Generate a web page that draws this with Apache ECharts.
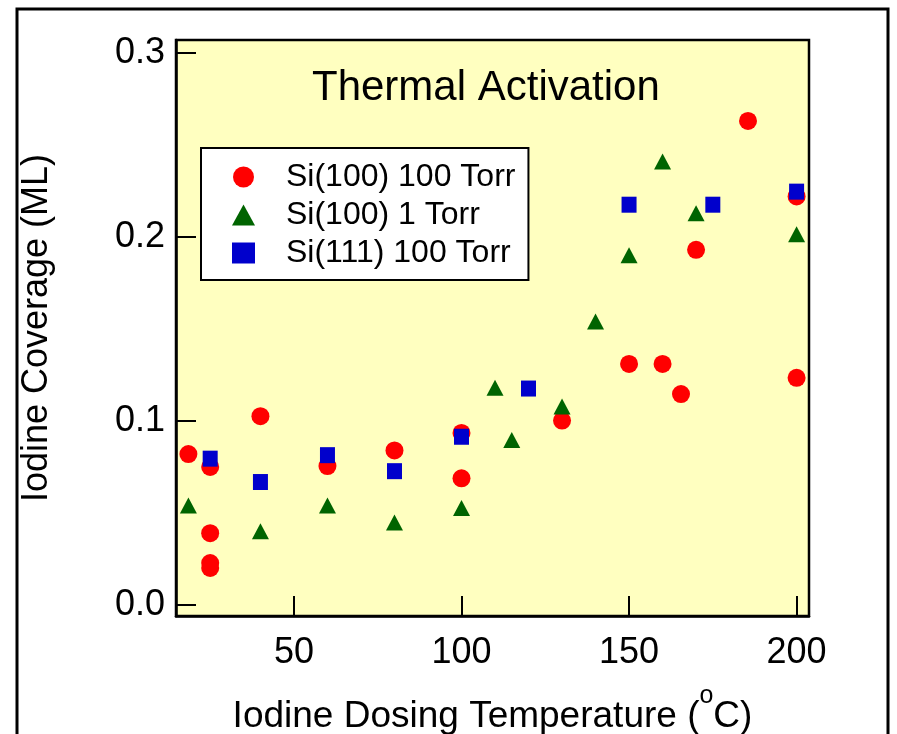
<!DOCTYPE html>
<html>
<head>
<meta charset="utf-8">
<title>Thermal Activation</title>
<script src="https://cdn.jsdelivr.net/npm/echarts@6/dist/echarts.min.js"></script>
<style>
  html, body { margin: 0; padding: 0; background: #fff; }
  #main { width: 897px; height: 734px; }
</style>
</head>
<body>
<div id="main"></div>
<script>
// 数据
var xTicks = [50, 100, 150, 200];
var yTicks = [0, 0.1, 0.2, 0.3];

// Si(100) 100 Torr
var si100_100x = [18.5, 25, 25, 25, 25, 40, 60, 80, 100, 100, 130, 150, 160, 165.5, 170, 185.5, 200, 200];
var si100_100y = [0.082, 0.075, 0.039, 0.0228, 0.0201, 0.1026, 0.0755, 0.084, 0.0935, 0.0688, 0.1002, 0.131, 0.131, 0.1146, 0.193, 0.263, 0.222, 0.1234];

// Si(100) 1 Torr
var si100_1x = [18.5, 40, 60, 80, 100, 110, 115, 130, 140, 150, 160, 170, 200];
var si100_1y = [0.054, 0.040, 0.054, 0.0448, 0.0527, 0.118, 0.0897, 0.1078, 0.154, 0.190, 0.241, 0.2128, 0.2014];

// Si(111) 100 Torr
var si111_100x = [25, 40, 60, 80, 100, 120, 150, 175, 200];
var si111_100y = [0.0795, 0.0668, 0.0814, 0.0727, 0.0914, 0.1176, 0.2175, 0.2175, 0.2246];

function pairs(xs, ys) {
  var out = [];
  for (var i = 0; i < xs.length; i++) out.push([xs[i], ys[i]]);
  return out;
}

var FONT = '"Liberation Sans", Arial, sans-serif';

var chart = echarts.init(document.getElementById('main'));
var option = {
  backgroundColor: '#fff',
  animation: false,
  textStyle: { fontFamily: FONT, color: '#000' },
  title: {
    text: 'Thermal Activation',
    left: 307,
    top: 62,
    textStyle: { fontFamily: FONT, fontSize: 42, fontWeight: 'normal', color: '#000' }
  },
  legend: {
    orient: 'vertical',
    left: 201,
    top: 148,
    padding: [13, 13, 11, 31],
    itemGap: 6,
    itemWidth: 23,
    itemHeight: 21,
    backgroundColor: '#fff',
    borderColor: '#000',
    borderWidth: 2,
    formatter: function (name) { return '{g| }' + name; },
    textStyle: {
      fontFamily: FONT, fontSize: 32, color: '#000',
      rich: { g: { width: 26, fontSize: 32 } }
    },
    data: [
      { name: 'Si(100) 100 Torr', icon: 'circle' },
      { name: 'Si(100) 1 Torr', icon: 'triangle' },
      { name: 'Si(111) 100 Torr', icon: 'rect' }
    ]
  },
  graphic: [{
    type: 'rect',
    shape: { x: 17, y: 9, width: 871, height: 760 },
    style: { fill: 'none', stroke: '#000', lineWidth: 3 },
    z: 100
  }],
  grid: {
    left: 176,
    top: 40,
    width: 633,
    height: 576,
    outerBoundsMode: 'none',
    show: true,
    backgroundColor: '#FFFFC0',
    borderColor: '#000',
    borderWidth: 2.5
  },
  xAxis: {
    type: 'value',
    min: 14.8,
    max: 203.7,
    name: '{a|Iodine Dosing Temperature (}{s|o}{a|C)}',
    nameLocation: 'middle',
    nameGap: 68,
    nameTextStyle: {
      rich: {
        a: { fontFamily: FONT, fontSize: 37, color: '#000', verticalAlign: 'bottom' },
        s: { fontFamily: FONT, fontSize: 25, color: '#000', verticalAlign: 'bottom', padding: [0, 0, 26, 0] }
      }
    },
    axisLine: { onZero: false, lineStyle: { color: '#000', width: 2.5 } },
    axisTick: { inside: true, length: 20, lineStyle: { color: '#000', width: 2 }, customValues: xTicks },
    axisLabel: { fontFamily: FONT, fontSize: 36, color: '#000', margin: 19, customValues: xTicks },
    splitLine: { show: false }
  },
  yAxis: {
    type: 'value',
    min: -0.006,
    max: 0.307,
    name: 'Iodine Coverage (ML)',
    nameLocation: 'middle',
    nameRotate: 90,
    nameGap: 121,
    nameTextStyle: { fontFamily: FONT, fontSize: 36, color: '#000' },
    axisLine: { onZero: false, lineStyle: { color: '#000', width: 2.5 } },
    axisTick: { inside: true, length: 20, lineStyle: { color: '#000', width: 2 }, customValues: yTicks },
    axisLabel: {
      fontFamily: FONT, fontSize: 36, color: '#000', margin: 11, customValues: yTicks,
      formatter: function (v) { return v.toFixed(1); }
    },
    splitLine: { show: false }
  },
  series: [
    {
      name: 'Si(100) 100 Torr',
      type: 'scatter',
      symbol: 'circle',
      symbolSize: 18,
      itemStyle: { color: '#FF0000', opacity: 1 },
      data: pairs(si100_100x, si100_100y)
    },
    {
      name: 'Si(100) 1 Torr',
      type: 'scatter',
      symbol: 'triangle',
      symbolSize: [17, 16],
      itemStyle: { color: '#006400', opacity: 1 },
      data: pairs(si100_1x, si100_1y)
    },
    {
      name: 'Si(111) 100 Torr',
      type: 'scatter',
      symbol: 'rect',
      symbolSize: [15, 16],
      itemStyle: { color: '#0000CC', opacity: 1 },
      data: pairs(si111_100x, si111_100y)
    }
  ]
};
chart.setOption(option);
</script>
</body>
</html>
